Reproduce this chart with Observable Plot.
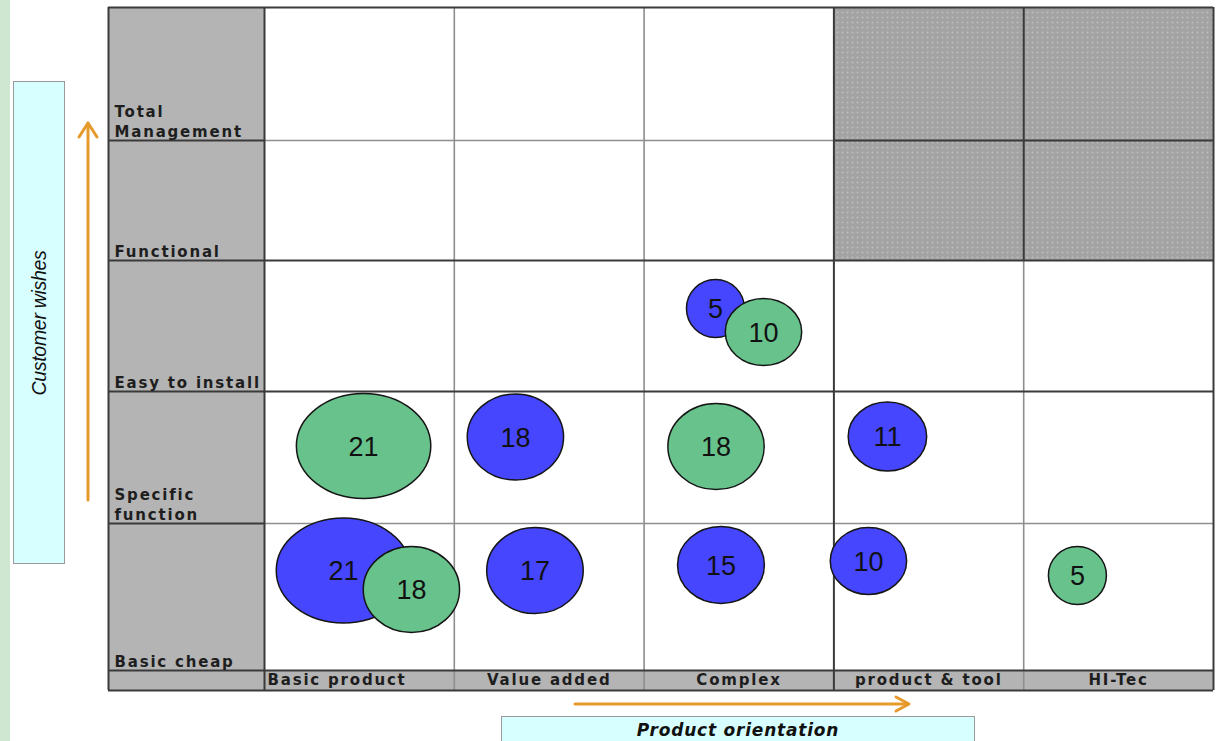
<!DOCTYPE html>
<html>
<head>
<meta charset="utf-8">
<script src="https://cdn.jsdelivr.net/npm/d3@7"></script>
<script src="https://cdn.jsdelivr.net/npm/@observablehq/plot@0.6"></script>
<style>
html,body{margin:0;padding:0;background:#fff;overflow:hidden}
#wrap{position:relative;width:1216px;height:741px;overflow:hidden;background:#fff}
#stripe{position:absolute;left:0;top:0;width:10px;height:741px;background:#cfe7d0}
#ybox{position:absolute;left:13px;top:81px;width:52px;height:483px;background:#d7ffff;border:1.5px solid #9a9a9a;box-sizing:border-box}
#ybox span{position:absolute;left:50%;top:50%;transform:translate(-50%,-50%) rotate(-90deg);white-space:nowrap;font:italic 19.5px "Liberation Sans",Arial,sans-serif;letter-spacing:-0.3px;color:#111}
#xbox{position:absolute;left:501px;top:716px;width:474px;height:40px;background:#d7ffff;border:1.5px solid #9a9a9a;box-sizing:border-box;text-align:center}
#xbox span{display:block;font:italic bold 17px "DejaVu Sans",sans-serif;letter-spacing:0.8px;line-height:26px;color:#111}
#chart{position:absolute;left:0;top:0}
#arrows{position:absolute;left:0;top:0;pointer-events:none}
g[aria-description="cat-label"] text{letter-spacing:1.8px}
</style>
</head>
<body>
<svg width="0" height="0" style="position:absolute">
  <defs>
    <pattern id="dots" width="5" height="5" patternUnits="userSpaceOnUse">
      <rect width="5" height="5" fill="#a3a3a3"/>
      <circle cx="2.5" cy="2.5" r="1" fill="#bebebe"/>
    </pattern>
  </defs>
</svg>
<div id="wrap">
  <div id="stripe"></div>
  <div id="ybox"><span>Customer wishes</span></div>
  <div id="xbox"><span>Product orientation</span></div>
  <div id="chart"></div>
  <svg id="arrows" width="1216" height="741">
    <g stroke="#e69a2a" stroke-width="3" fill="none" stroke-linecap="round" stroke-linejoin="round">
      <line x1="88" y1="500" x2="88" y2="123"/>
      <polyline points="79,137 88,123 97,137"/>
      <line x1="575" y1="704" x2="908" y2="704"/>
      <polyline points="896,697 909,704 896,711"/>
    </g>
  </svg>
</div>
<script>
// ---- data ----
const columns = ["Basic product", "Value added", "Complex", "product & tool", "HI-Tec"];
const rows = ["Total\nManagement", "Functional", "Easy to install", "Specific\nfunction", "Basic cheap"];
const seriesNames = ["Series 1", "Series 2"];
const shadedCols = ["product & tool", "HI-Tec"];
const shadedRows = ["Total\nManagement", "Functional"];

const bubbleValue  = [21, 21, 18, 18, 17, 5, 10, 18, 15, 11, 10, 5];
const bubbleSeries = ["Series 2", "Series 1", "Series 2", "Series 1", "Series 1", "Series 1", "Series 2", "Series 2", "Series 1", "Series 1", "Series 1", "Series 2"];
const bubbleCol    = ["Basic product", "Basic product", "Basic product", "Value added", "Value added", "Complex", "Complex", "Complex", "Complex", "product & tool", "product & tool", "HI-Tec"];
const bubbleRow    = ["Specific\nfunction", "Basic cheap", "Basic cheap", "Specific\nfunction", "Basic cheap", "Easy to install", "Easy to install", "Specific\nfunction", "Basic cheap", "Specific\nfunction", "Basic cheap", "Basic cheap"];
// position of each bubble inside its cell (0..1 from left, 0..1 from bottom)
const bubbleInX    = [0.522, 0.416, 0.774, 0.322, 0.425, 0.376, 0.629, 0.379, 0.405, 0.282, 0.182, 0.283];
const bubbleInY    = [0.587, 0.680, 0.551, 0.655, 0.680, 0.634, 0.454, 0.583, 0.718, 0.659, 0.745, 0.646];

// ---- derived tables ----
const colIndex = c => columns.indexOf(c);
const rowIndex = r => rows.length - 1 - rows.indexOf(r); // 0 = bottom row
const bubbles = bubbleValue.map((v, i) => ({
  value: v,
  series: bubbleSeries[i],
  x: colIndex(bubbleCol[i]) + bubbleInX[i],
  y: rowIndex(bubbleRow[i]) + bubbleInY[i]
}));
const nC = columns.length, nR = rows.length;
const rowLabels = rows.map(r => ({label: r, y: rowIndex(r)}));
const colLabels = columns.map(c => ({label: c, x: colIndex(c) + 0.5, x0: colIndex(c)}));
const shaded = [{
  x1: colIndex(shadedCols[0]), x2: colIndex(shadedCols[shadedCols.length - 1]) + 1,
  y1: Math.min(...shadedRows.map(rowIndex)), y2: Math.max(...shadedRows.map(rowIndex)) + 1
}];
const sx = shaded[0].x1, sy = shaded[0].y1;

const DARK = "#3a3a3a", LIGHT = "#8e8e8e";
const lightV = d3.range(1, nC).filter(x => x !== sx);
const darkV = [-1, 0, sx, nC];
const lightH = d3.range(1, nR).filter(y => y !== sy && y !== 2);
const darkH = [-1, 0, 2, sy, nR];

const aspect = d3.scaleLinear().domain([5, 10, 18, 21]).range([1.0, 1.14, 1.12, 1.28]);

const labelFont = {fontSize: 15, fontWeight: "bold", fontFamily: "DejaVu Sans, sans-serif", fill: "#1e1e1e", ariaDescription: "cat-label"};

const chart = Plot.plot({
  width: 1216,
  height: 741,
  marginLeft: 0, marginRight: 0, marginTop: 0, marginBottom: 0,
  style: {background: "transparent", overflow: "visible"},
  x: {type: "linear", domain: [-1, 0, nC], range: [108, 264, 1213], axis: null},
  y: {type: "linear", domain: [-1, 0, 1, 2, 3, 4, 5], range: [690, 670, 523, 391, 260, 140, 7], axis: null},
  r: {type: "linear", domain: [5, 10, 15, 17, 18, 21], range: [29, 33.5, 38.5, 43, 43, 52.5]},
  color: {domain: seriesNames, range: ["#4646ff", "#68c28b"]},
  marks: [
    // label column and label strip
    Plot.rect([{x1: -1, x2: 0, y1: -1, y2: nR}, {x1: 0, x2: nC, y1: -1, y2: 0}], {x1: "x1", x2: "x2", y1: "y1", y2: "y2", fill: "#b4b4b4"}),
    // white cells
    Plot.rect([{x1: 0, x2: nC, y1: 0, y2: nR}], {x1: "x1", x2: "x2", y1: "y1", y2: "y2", fill: "#ffffff"}),
    // shaded block
    Plot.rect(shaded, {x1: "x1", x2: "x2", y1: "y1", y2: "y2", fill: "url(#dots)"}),
    // light grid lines
    Plot.ruleX(lightV, {x: d => d, y1: -1, y2: nR, stroke: LIGHT, strokeWidth: 1.6}),
    Plot.ruleY(lightH, {y: d => d, x1: 0, x2: nC, stroke: LIGHT, strokeWidth: 1.6}),
    // dark grid lines
    Plot.ruleY(lightH, {y: d => d, x1: -1, x2: 0, stroke: DARK, strokeWidth: 2}),
    Plot.ruleY(d3.range(sy + 1, nR), {y: d => d, x1: sx, x2: nC, stroke: DARK, strokeWidth: 2}),
    Plot.ruleX(d3.range(sx + 1, nC), {x: d => d, y1: sy, y2: nR, stroke: DARK, strokeWidth: 2}),
    Plot.ruleX(darkV, {x: d => d, y1: -1, y2: nR, stroke: DARK, strokeWidth: 2}),
    Plot.ruleY(darkH, {y: d => d, x1: -1, x2: nC, stroke: DARK, strokeWidth: 2}),
    // bubbles
    Plot.dot(bubbles, {x: "x", y: "y", r: "value", fill: "series", stroke: "#151515", strokeWidth: 1.5, sort: null, ariaDescription: "bubble"}),
    Plot.text(bubbles, {x: "x", y: "y", text: d => String(d.value), fontSize: 27, fontFamily: "Liberation Sans, Arial, sans-serif", fill: "#111", dy: 1}),
    // row labels
    Plot.text(rowLabels, {x: -1, y: "y", text: "label", dx: 6, dy: -4, textAnchor: "start", lineAnchor: "bottom", lineHeight: 1.3, ...labelFont}),
    // column labels
    Plot.text(colLabels.slice(0, 1), {x: "x0", y: -0.5, text: "label", dx: 3, textAnchor: "start", lineAnchor: "middle", ...labelFont}),
    Plot.text(colLabels.slice(1), {x: "x", y: -0.5, text: "label", textAnchor: "middle", lineAnchor: "middle", ...labelFont})
  ]
});
document.getElementById("chart").appendChild(chart);

// turn bubble circles into ellipses (horizontal stretch seen in the picture)
let bubbleGroup = chart.querySelector('g[aria-description="bubble"]') || chart.querySelector('g[aria-label="dot"]');
const circles = bubbleGroup ? bubbleGroup.querySelectorAll("circle") : [];
circles.forEach((c, k) => {
  let i = d3.select(c).datum();
  if (typeof i !== "number" || !bubbles[i]) i = k;
  const v = bubbles[i].value;
  const r = +c.getAttribute("r");
  const e = document.createElementNS("http://www.w3.org/2000/svg", "ellipse");
  for (const a of Array.from(c.attributes)) if (a.name !== "r") e.setAttribute(a.name, a.value);
  e.setAttribute("rx", r * aspect(v));
  e.setAttribute("ry", r);
  c.replaceWith(e);
});
</script>
</body>
</html>
